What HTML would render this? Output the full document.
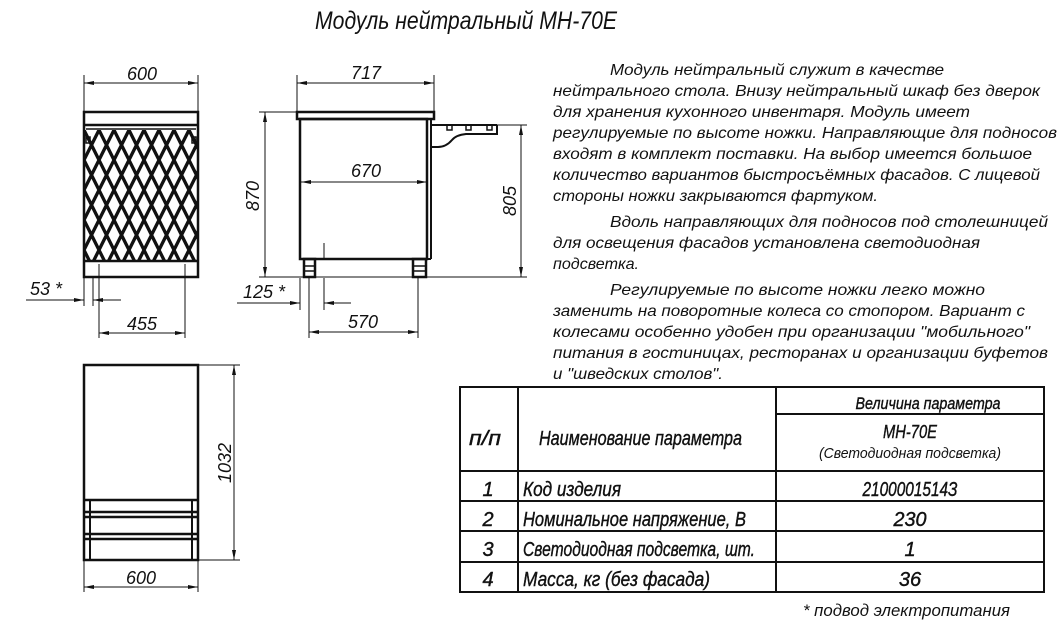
<!DOCTYPE html>
<html><head><meta charset="utf-8"><style>
html,body{margin:0;padding:0;background:#fff;}
svg{display:block;}
text{font-family:"Liberation Sans Narrow","Liberation Sans",sans-serif;font-style:italic;fill:#111;}
</style></head><body>
<svg width="1062" height="633" viewBox="0 0 1062 633" xmlns="http://www.w3.org/2000/svg">
<defs>
<pattern id="lat" patternUnits="userSpaceOnUse" x="84" y="130" width="15" height="30">
<path d="M0,0 L15,30 M15,0 L0,30 M-7.5,15 L0,30 M22.5,15 L15,30 M-7.5,-15 L7.5,15 M22.5,-15 L7.5,15 M7.5,15 L22.5,45 M7.5,15 L-7.5,45" stroke="#111" stroke-width="3.3" fill="none"/>
</pattern>
<marker id="a" viewBox="0 0 10 4" refX="10" refY="2" markerWidth="10" markerHeight="4" orient="auto-start-reverse" markerUnits="userSpaceOnUse"><path d="M0,0 L10,2 L0,4z" fill="#111"/></marker>
</defs>

<text x="315" y="29" font-size="25" textLength="302" lengthAdjust="spacingAndGlyphs">Модуль нейтральный МН-70Е</text>

<!-- FRONT VIEW -->
<g stroke="#111" fill="none">
<rect x="84" y="130" width="114" height="130" fill="url(#lat)" stroke="none"/>
<rect x="84" y="112" width="114" height="165" stroke-width="2.5"/>
<line x1="84" y1="125" x2="198" y2="125" stroke-width="2.5"/>
<line x1="86" y1="129" x2="196" y2="129" stroke-width="1.5"/>
<line x1="84" y1="261" x2="198" y2="261" stroke-width="2.5"/>
<rect x="86" y="137" width="4" height="6" stroke-width="1.5"/>
<rect x="192" y="137" width="4" height="6" stroke-width="1.5"/>
<line x1="99" y1="264" x2="99" y2="277" stroke-width="1"/>
<line x1="185" y1="264" x2="185" y2="277" stroke-width="1"/>
<g stroke-width="1">
<line x1="84" y1="75" x2="84" y2="111"/><line x1="198" y1="75" x2="198" y2="111"/>
<line x1="84" y1="83" x2="198" y2="83" marker-start="url(#a)" marker-end="url(#a)"/>
<line x1="84" y1="278" x2="84" y2="306"/><line x1="93" y1="278" x2="93" y2="306"/><line x1="99" y1="278" x2="99" y2="338"/>
<line x1="26" y1="300" x2="84" y2="300" marker-end="url(#a)"/><line x1="121" y1="300" x2="93" y2="300" marker-end="url(#a)"/>
<line x1="185" y1="278" x2="185" y2="338"/>
<line x1="99" y1="333" x2="185" y2="333" marker-start="url(#a)" marker-end="url(#a)"/>
</g></g>
<text x="142" y="80" font-size="18" text-anchor="middle">600</text>
<text x="30" y="295" font-size="18">53 *</text>
<text x="142" y="330" font-size="18" text-anchor="middle">455</text>

<!-- SIDE VIEW -->
<g stroke="#111" fill="none">
<rect x="297" y="112" width="137" height="7" stroke-width="2.5"/>
<rect x="300" y="119" width="127" height="140" stroke-width="2.5"/>
<line x1="431" y1="119" x2="431" y2="259" stroke-width="2"/>
<line x1="427" y1="259" x2="431" y2="259" stroke-width="2"/>
<rect x="304" y="259" width="11" height="18" stroke-width="2.5"/>
<line x1="304" y1="266" x2="315" y2="266" stroke-width="1.5"/><line x1="304" y1="271" x2="315" y2="271" stroke-width="1.5"/>
<rect x="413" y="259" width="13" height="18" stroke-width="2.5"/>
<line x1="413" y1="266" x2="426" y2="266" stroke-width="1.5"/><line x1="413" y1="271" x2="426" y2="271" stroke-width="1.5"/>
<path d="M432,125 L497,125 M432,147 L438,147 Q446,147 452,140 Q456,135 466,134 L497,134 L497,125" stroke-width="2"/>
<rect x="447" y="125" width="5" height="5" stroke-width="1.5"/><rect x="466" y="125" width="5" height="5" stroke-width="1.5"/><rect x="487" y="125" width="5" height="5" stroke-width="1.5"/>
<line x1="324" y1="243" x2="324" y2="259" stroke-width="1"/>
<g stroke-width="1">
<line x1="297" y1="75" x2="297" y2="111"/><line x1="434" y1="75" x2="434" y2="111"/>
<line x1="297" y1="83" x2="434" y2="83" marker-start="url(#a)" marker-end="url(#a)"/>
<line x1="259" y1="112" x2="296" y2="112"/>
<line x1="259" y1="277" x2="527" y2="277"/>
<line x1="265" y1="112" x2="265" y2="277" marker-start="url(#a)" marker-end="url(#a)"/>
<line x1="497" y1="125" x2="527" y2="125"/>
<line x1="521" y1="125" x2="521" y2="277" marker-start="url(#a)" marker-end="url(#a)"/>
<line x1="301" y1="182" x2="427" y2="182" marker-start="url(#a)" marker-end="url(#a)"/>
<line x1="300" y1="278" x2="300" y2="310"/><line x1="324" y1="278" x2="324" y2="310"/>
<line x1="237" y1="303" x2="300" y2="303" marker-end="url(#a)"/><line x1="351" y1="303" x2="324" y2="303" marker-end="url(#a)"/>
<line x1="309" y1="278" x2="309" y2="338"/><line x1="418" y1="278" x2="418" y2="338"/>
<line x1="309" y1="332" x2="418" y2="332" marker-start="url(#a)" marker-end="url(#a)"/>
</g></g>
<text x="366" y="79" font-size="18" text-anchor="middle">717</text>
<text x="366" y="177" font-size="18" text-anchor="middle">670</text>
<text transform="translate(259,196) rotate(-90)" font-size="18" text-anchor="middle">870</text>
<text transform="translate(516,201) rotate(-90)" font-size="18" text-anchor="middle">805</text>
<text x="243" y="298" font-size="18">125 *</text>
<text x="363" y="328" font-size="18" text-anchor="middle">570</text>

<!-- BOTTOM VIEW -->
<g stroke="#111" fill="none">
<rect x="84" y="365" width="114" height="195" stroke-width="2.5"/>
<line x1="84" y1="500" x2="198" y2="500" stroke-width="2.5"/>
<line x1="84" y1="512" x2="198" y2="512" stroke-width="2.5"/><line x1="84" y1="517" x2="198" y2="517" stroke-width="2.5"/>
<line x1="84" y1="534" x2="198" y2="534" stroke-width="2.5"/><line x1="84" y1="539" x2="198" y2="539" stroke-width="2.5"/>
<line x1="90" y1="500" x2="90" y2="560" stroke-width="2"/><line x1="192" y1="500" x2="192" y2="560" stroke-width="2"/>
<g stroke-width="1">
<line x1="199" y1="365" x2="240" y2="365"/><line x1="199" y1="560" x2="240" y2="560"/>
<line x1="234" y1="365" x2="234" y2="560" marker-start="url(#a)" marker-end="url(#a)"/>
<line x1="84" y1="561" x2="84" y2="592"/><line x1="198" y1="561" x2="198" y2="592"/>
<line x1="84" y1="587" x2="198" y2="587" marker-start="url(#a)" marker-end="url(#a)"/>
</g></g>
<text transform="translate(231,463) rotate(-90)" font-size="18" text-anchor="middle">1032</text>
<text x="141" y="584" font-size="18" text-anchor="middle">600</text>

<!-- PARAGRAPH -->
<g font-size="16">
<text x="610" y="75" textLength="334" lengthAdjust="spacingAndGlyphs">Модуль нейтральный служит в качестве</text>
<text x="553" y="96" textLength="487" lengthAdjust="spacingAndGlyphs">нейтрального стола. Внизу нейтральный шкаф без дверок</text>
<text x="553" y="117" textLength="417" lengthAdjust="spacingAndGlyphs">для хранения кухонного инвентаря. Модуль имеет</text>
<text x="553" y="138" textLength="504" lengthAdjust="spacingAndGlyphs">регулируемые по высоте ножки. Направляющие для подносов</text>
<text x="553" y="159" textLength="479" lengthAdjust="spacingAndGlyphs">входят в комплект поставки. На выбор имеется большое</text>
<text x="553" y="180" textLength="487" lengthAdjust="spacingAndGlyphs">количество вариантов быстросъёмных фасадов. С лицевой</text>
<text x="553" y="201" textLength="325" lengthAdjust="spacingAndGlyphs">стороны ножки закрываются фартуком.</text>
<text x="610" y="227" textLength="438" lengthAdjust="spacingAndGlyphs">Вдоль направляющих для подносов под столешницей</text>
<text x="553" y="248" textLength="427" lengthAdjust="spacingAndGlyphs">для освещения фасадов установлена светодиодная</text>
<text x="553" y="269" textLength="86" lengthAdjust="spacingAndGlyphs">подсветка.</text>
<text x="610" y="295" textLength="375" lengthAdjust="spacingAndGlyphs">Регулируемые по высоте ножки легко можно</text>
<text x="553" y="316" textLength="472" lengthAdjust="spacingAndGlyphs">заменить на поворотные колеса со стопором. Вариант с</text>
<text x="553" y="337" textLength="477" lengthAdjust="spacingAndGlyphs">колесами особенно удобен при организации "мобильного"</text>
<text x="553" y="358" textLength="495" lengthAdjust="spacingAndGlyphs">питания в гостиницах, ресторанах и организации буфетов</text>
<text x="553" y="379" textLength="170" lengthAdjust="spacingAndGlyphs">и "шведских столов".</text>
</g>

<!-- TABLE -->
<g stroke="#111" fill="none" stroke-width="2">
<rect x="460" y="387" width="584" height="205"/>
<line x1="518" y1="387" x2="518" y2="592"/>
<line x1="776" y1="387" x2="776" y2="592"/>
<line x1="776" y1="414" x2="1044" y2="414"/>
<line x1="460" y1="471" x2="1044" y2="471"/>
<line x1="460" y1="501" x2="1044" y2="501"/>
<line x1="460" y1="531" x2="1044" y2="531"/>
<line x1="460" y1="562" x2="1044" y2="562"/>
</g>
<g font-size="20" stroke="#111" stroke-width="0.4">
<text x="485" y="445" text-anchor="middle" textLength="32" lengthAdjust="spacingAndGlyphs">п/п</text>
<text x="539" y="445" textLength="203" lengthAdjust="spacingAndGlyphs">Наименование параметра</text>
<text x="928" y="409" font-size="17" text-anchor="middle" textLength="145" lengthAdjust="spacingAndGlyphs">Величина параметра</text>
<text x="910" y="438" font-size="18" text-anchor="middle" textLength="54" lengthAdjust="spacingAndGlyphs">МН-70Е</text>
<text x="910" y="458" font-size="15" stroke-width="0" text-anchor="middle" textLength="182" lengthAdjust="spacingAndGlyphs">(Светодиодная подсветка)</text>
<text x="488" y="496" text-anchor="middle">1</text>
<text x="488" y="526" text-anchor="middle">2</text>
<text x="488" y="556" text-anchor="middle">3</text>
<text x="488" y="586" text-anchor="middle">4</text>
<text x="523" y="496" textLength="98" lengthAdjust="spacingAndGlyphs">Код изделия</text>
<text x="523" y="526" textLength="223" lengthAdjust="spacingAndGlyphs">Номинальное напряжение, В</text>
<text x="523" y="556" textLength="232" lengthAdjust="spacingAndGlyphs">Светодиодная подсветка, шт.</text>
<text x="523" y="586" textLength="187" lengthAdjust="spacingAndGlyphs">Масса, кг (без фасада)</text>
<text x="910" y="496" text-anchor="middle" textLength="95" lengthAdjust="spacingAndGlyphs">2100001514З</text>
<text x="910" y="526" text-anchor="middle" textLength="33" lengthAdjust="spacingAndGlyphs">230</text>
<text x="910" y="556" text-anchor="middle">1</text>
<text x="910" y="586" text-anchor="middle">36</text>
</g>
<text x="803" y="616" font-size="17" textLength="207" lengthAdjust="spacingAndGlyphs">* подвод электропитания</text>
</svg>
</body></html>
